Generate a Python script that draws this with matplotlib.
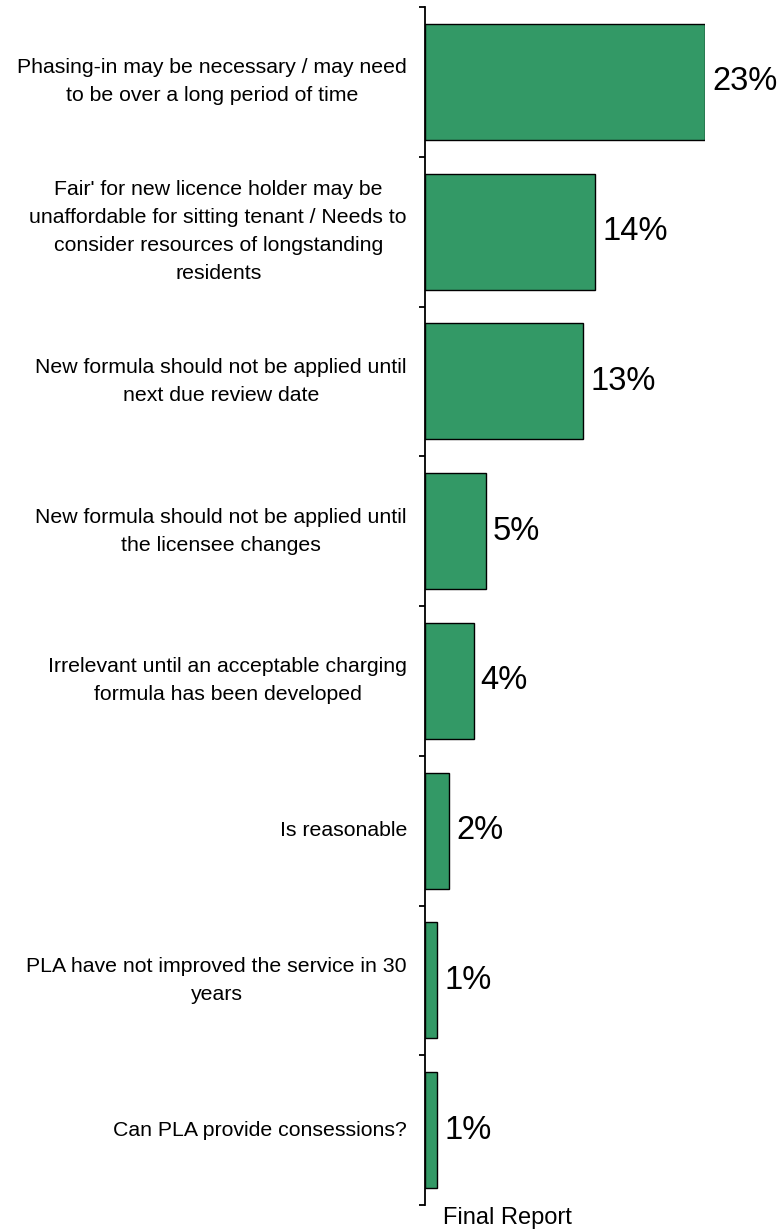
import matplotlib.pyplot as plt
import matplotlib.transforms as mtransforms
import numpy as np

categories = [
    "Phasing-in may be necessary / may need\nto be over a long period of time",
    "Fair' for new licence holder may be\nunaffordable for sitting tenant / Needs to\nconsider resources of longstanding\nresidents",
    "New formula should not be applied until\nnext due review date",
    "New formula should not be applied until\nthe licensee changes",
    "Irrelevant until an acceptable charging\nformula has been developed",
    "Is reasonable",
    "PLA have not improved the service in 30\nyears",
    "Can PLA provide consessions?",
]
values = [23, 14, 13, 5, 4, 2, 1, 1]
series_name = "Final Report"

plt.rcParams["font.family"] = ["Liberation Sans", "DejaVu Sans"]

W, H = 780, 1230
fig = plt.figure(figsize=(W / 100, H / 100), dpi=100)
ax = fig.add_axes([425 / W, 25 / H, 280 / W, 1198 / H])

y = np.arange(len(values))
ax.barh(y, values, height=0.775, color="#339966", edgecolor="black", linewidth=1)

ax.set_xlim(0, 23)
ax.set_ylim(len(values) - 0.5, -0.5)

for s in ["top", "right", "bottom"]:
    ax.spines[s].set_visible(False)
ax.spines["left"].set_linewidth(1.3)
ax.set_xticks([])
ax.set_yticks(np.arange(len(values) + 1) - 0.5)
ax.set_yticklabels([])
ax.tick_params(axis="y", direction="out", length=4.5, width=1.3)

offset = mtransforms.offset_copy(ax.transData, fig=fig, x=-18, y=0, units="dots")
for yi, lab in zip(y, categories):
    ax.text(0, yi, lab, transform=offset, ha="right", va="center",
            multialignment="center", fontsize=15.3, linespacing=1.6)

lab_off = mtransforms.offset_copy(ax.transData, fig=fig, x=7, y=0, units="dots")
for yi, v in zip(y, values):
    ax.text(v, yi, f"{v}%", transform=lab_off, ha="left", va="center",
            fontsize=23.5, clip_on=False)

fig.text(507 / W, 1 - 1218 / H, series_name, ha="center", va="center", fontsize=17)

fig.savefig("out.png", dpi=100)
